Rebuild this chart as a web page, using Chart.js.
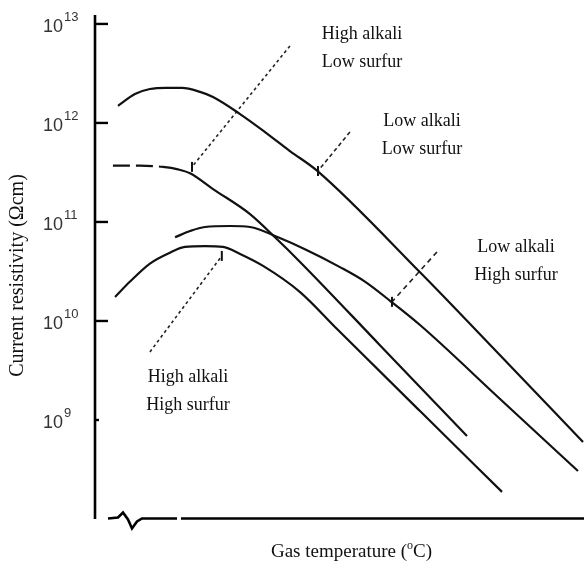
<!DOCTYPE html>
<html><head><meta charset="utf-8">
<script src="https://cdn.jsdelivr.net/npm/chart.js@4"></script>
<style>html,body{margin:0;padding:0;background:#fff;overflow:hidden}canvas{display:block}</style>
</head><body><canvas id="c" width="584" height="563" style="width:584px;height:563px"></canvas>
<script>
// ---- data (temperature in arbitrary °C units, resistivity in Ωcm) ----
const yTickExponents = [9, 10, 11, 12, 13];

const lowAlkaliLowSulfurTemp = [114.1,124.5,133.7,143.6,153.4,164.4,172.4,189.0,204.3,219.6,236.2,299.4,348.5,399.4];
const lowAlkaliLowSulfurRes  = [1.49e12,1.96e12,2.2e12,2.26e12,2.26e12,2.06e12,1.83e12,1.23e12,8.1e11,5.2e11,3.3e11,3.1e10,4.5e9,6.0e8];

const highAlkaliLowSulfurTemp = [111.0,127.6,141.7,150.9,158.3,172.4,195.1,210.4,225.8,274.8,328.2];
const highAlkaliLowSulfurRes  = [3.7e11,3.7e11,3.6e11,3.4e11,3.1e11,2.15e11,1.2e11,7.0e10,3.95e10,5.7e9,6.9e8];

const lowAlkaliHighSulfurTemp = [149.1,158.3,167.5,182.8,195.1,212.3,228.8,250.3,265.6,281.0,299.4,348.5,396.3];
const lowAlkaliHighSulfurRes  = [7.0e10,8.1e10,8.9e10,9.1e10,8.9e10,7.0e10,5.3e10,3.5e10,2.5e10,1.6e10,9.1e9,1.63e9,3.05e8];

const highAlkaliHighSulfurTemp = [112.3,121.5,133.7,146.0,155.2,167.5,178.5,189.0,203.1,225.8,248.5,299.4,349.7];
const highAlkaliHighSulfurRes  = [1.75e10,2.5e10,3.8e10,4.9e10,5.6e10,5.7e10,5.6e10,4.75e10,3.6e10,1.96e10,8.3e9,1.23e9,1.88e8];

const dashedLeadPoints = 3; // first points of the high-alkali/low-sulfur curve are dashed

// leader lines (label -> curve): start and end
const leaderHiLoTemp = [219.6, 159.5]; const leaderHiLoRes = [6.0e12, 3.6e11];
const leaderLoLoTemp = [256.4, 236.8]; const leaderLoLoRes = [8.1e11, 3.27e11];
const leaderLoHiTemp = [309.8, 282.2]; const leaderLoHiRes = [4.98e10, 1.56e10];
const leaderHiHiTemp = [133.7, 177.8]; const leaderHiHiRes = [4.87e9, 4.54e10];

// curve labels
const labelFirstLines  = ["High alkali", "Low alkali", "Low alkali", "High alkali"];
const labelSecondLines = ["Low surfur", "Low surfur", "High surfur", "High surfur"];
const labelTemp = [263.8, 300.6, 358.3, 157.1];
const labelRes  = [7.9e12, 1.05e12, 5.6e10, 2.7e9];

const xTitleMain = "Gas temperature (";
const xTitleSup = "o";
const xTitleEnd = "C)";
const yTitle = "Current resistivity (\u03A9cm)";

// ---- build ----
const pts = (xs, ys) => xs.map((x, i) => ({x: x, y: ys[i]}));
const curve = (xs, ys, extra) => Object.assign({
  data: pts(xs, ys), borderColor: '#111', borderWidth: 2.2, pointRadius: 0,
  cubicInterpolationMode: 'monotone', fill: false
}, extra || {});
const leader = (xs, ys, dash) => ({
  data: pts(xs, ys), borderColor: '#222', borderWidth: 1.6, borderDash: dash,
  pointRadius: [0, 5], pointStyle: 'line', pointRotation: 90, pointBorderWidth: 2,
  pointBorderColor: '#111', tension: 0, fill: false
});

const serif = '"Liberation Serif","Times New Roman",serif';
const sans = '"Liberation Sans",Arial,Helvetica,sans-serif';

const decor = {
  id: 'decor',
  afterDraw(chart) {
    const {ctx, chartArea: a, scales: {x, y}} = chart;
    ctx.save();
    ctx.strokeStyle = '#000';
    ctx.lineCap = 'butt';
    // y axis
    ctx.lineWidth = 2.6;
    ctx.beginPath(); ctx.moveTo(a.left, a.top + 1); ctx.lineTo(a.left, a.bottom); ctx.stroke();
    // x axis with break symbol
    const b = a.bottom - 0.5, L = a.left;
    ctx.beginPath();
    ctx.moveTo(L + 13, b); ctx.lineTo(L + 23, b - 1); ctx.lineTo(L + 28, b - 6);
    ctx.lineTo(L + 33, b + 1); ctx.lineTo(L + 37, b + 10); ctx.lineTo(L + 42, b + 3);
    ctx.lineTo(L + 47, b); ctx.lineTo(L + 82, b);
    ctx.moveTo(L + 86, b); ctx.lineTo(a.right, b);
    ctx.stroke();
    // ticks and labels
    yTickExponents.forEach(e => {
      const py = y.getPixelForValue(Math.pow(10, e));
      ctx.lineWidth = 2.4;
      ctx.beginPath(); ctx.moveTo(a.left, py);
      ctx.lineTo(a.left + (e === 9 ? 4 : 13), py); ctx.stroke();
      ctx.fillStyle = '#333';
      ctx.font = '18px ' + sans;
      ctx.textAlign = 'right'; ctx.textBaseline = 'alphabetic';
      ctx.fillText('10', 63, py + 8);
      ctx.font = '13px ' + sans;
      ctx.textAlign = 'left';
      ctx.fillText(String(e), 64, py - 3);
    });
    // curve labels
    ctx.fillStyle = '#111';
    ctx.font = '18px ' + serif;
    ctx.textAlign = 'center'; ctx.textBaseline = 'middle';
    labelTemp.forEach((t, i) => {
      const px = x.getPixelForValue(t), py = y.getPixelForValue(labelRes[i]);
      ctx.fillText(labelFirstLines[i], px, py);
      ctx.fillText(labelSecondLines[i], px, py + 28);
    });
    // x title
    ctx.font = '19px ' + serif;
    ctx.textAlign = 'left'; ctx.textBaseline = 'alphabetic';
    const w1 = ctx.measureText(xTitleMain).width;
    ctx.font = '12px ' + serif;
    const ws = ctx.measureText(xTitleSup).width;
    ctx.font = '19px ' + serif;
    const w2 = ctx.measureText(xTitleEnd).width;
    const total = w1 + ws + w2;
    let sx = (a.left + a.right) / 2 + 12 - total / 2;
    const by = 557;
    ctx.fillText(xTitleMain, sx, by);
    ctx.font = '12px ' + serif;
    ctx.fillText(xTitleSup, sx + w1, by - 8);
    ctx.font = '19px ' + serif;
    ctx.fillText(xTitleEnd, sx + w1 + ws, by);
    // y title
    ctx.translate(18, (a.top + a.bottom) / 2 + 9);
    ctx.rotate(-Math.PI / 2);
    ctx.font = '20px ' + serif;
    ctx.textAlign = 'center'; ctx.textBaseline = 'middle';
    ctx.fillText(yTitle, 0, 0);
    ctx.restore();
  }
};

new Chart(document.getElementById('c'), {
  type: 'line',
  data: {
    datasets: [
      curve(lowAlkaliLowSulfurTemp, lowAlkaliLowSulfurRes),
      curve(highAlkaliLowSulfurTemp, highAlkaliLowSulfurRes, {
        segment: { borderDash: c => c.p1DataIndex < dashedLeadPoints ? [17, 6] : undefined }
      }),
      curve(lowAlkaliHighSulfurTemp, lowAlkaliHighSulfurRes),
      curve(highAlkaliHighSulfurTemp, highAlkaliHighSulfurRes),
      leader(leaderHiLoTemp, leaderHiLoRes, [3, 3]),
      leader(leaderLoLoTemp, leaderLoLoRes, [4, 3]),
      leader(leaderLoHiTemp, leaderLoHiRes, [5, 4]),
      leader(leaderHiHiTemp, leaderHiHiRes, [3, 3])
    ]
  },
  options: {
    responsive: false, animation: false, devicePixelRatio: 1,
    layout: { autoPadding: false, padding: { left: 95, top: 14, right: 0, bottom: 44 } },
    plugins: { legend: { display: false }, tooltip: { enabled: false } },
    scales: {
      x: { type: 'linear', min: 100, max: 400, display: false },
      y: { type: 'logarithmic', min: 1e8, max: 1.26e13, display: false }
    }
  },
  plugins: [decor]
});
</script></body></html>
